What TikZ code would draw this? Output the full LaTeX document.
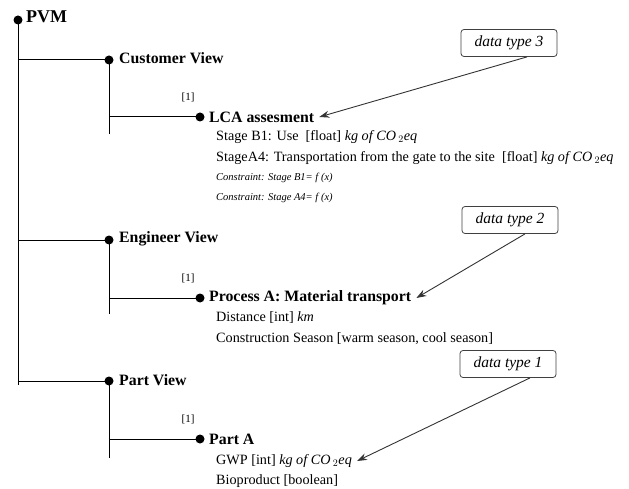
\documentclass[tikz,border=0pt]{standalone}
\usepackage{fontspec}
\setmainfont{Liberation Serif}
\usetikzlibrary{arrows.meta}
\begin{document}
\begin{tikzpicture}[x=1pt,y=-1pt,
  dotn/.style={circle,fill=black,inner sep=0pt,minimum size=9pt},
  tree/.style={line width=1pt,black},
  head/.style={anchor=west,inner sep=0pt,font=\fontsize{15.8}{18}\selectfont\bfseries},
  txt/.style={anchor=west,inner sep=0pt,font=\fontsize{14.2}{16}\selectfont},
  cons/.style={anchor=west,inner sep=0pt,font=\fontsize{10.5}{12}\selectfont\itshape},
  mult/.style={inner sep=0pt,font=\fontsize{11}{13}\selectfont},
  callout/.style={draw=black!75,rounded corners=3pt,line width=0.8pt,minimum width=96pt,minimum height=27pt,inner sep=0pt,font=\fontsize{15.5}{17}\selectfont\itshape},
  note/.style={draw=black!80,line width=0.9pt,-{Stealth[length=10pt,width=7pt]}}]
\useasboundingbox (0,0) rectangle (629,489);
% dots
\node[dotn] (pvm) at (18,20) {};
\node[dotn] (cv) at (109,60) {};
\node[dotn] (lca) at (200,117) {};
\node[dotn] (ev) at (109,240) {};
\node[dotn] (pa) at (200,298) {};
\node[dotn] (pv) at (109,381) {};
\node[dotn] (pta) at (200,439) {};
\coordinate (pvmend) at (18,385);
\coordinate (cvend) at (109,134);
\coordinate (evend) at (109,314);
\coordinate (pvend) at (109,458);
% tree lines
\draw[tree] (pvm.center) -- (pvmend);
\draw[tree] (pvm.center |- cv) -- (cv.center);
\draw[tree] (pvm.center |- ev) -- (ev.center);
\draw[tree] (pvm.center |- pv) -- (pv.center);
\draw[tree] (cv.center) -- (cvend);
\draw[tree] (ev.center) -- (evend);
\draw[tree] (pv.center) -- (pvend);
\draw[tree] (cv.center |- lca) -- (lca.center);
\draw[tree] (ev.center |- pa) -- (pa.center);
\draw[tree] (pv.center |- pta) -- (pta.center);
% labels
\node[head,font=\fontsize{18}{20}\selectfont\bfseries] (tpvm) at (26,17) {PVM};
\node[head] (tcv) at (119,58) {Customer View};
\node[head] (tev) at (119,239) {Engineer View};
\node[head] (tpv) at (119,380) {Part View};
\node[mult] (m1) at (188,97) {[1]};
\node[mult] (m2) at (188,278) {[1]};
\node[mult] (m3) at (188,419) {[1]};
\node[head] (tlca) at (209,117) {LCA assesment};
\node[head] (tpa) at (209,298) {Process A: Material transport};
\node[head] (tpta) at (209,439) {Part A};
\node[txt] (l1) at (216,137) {Stage B1: Use\ \ [float] \textit{kg of CO\,$_2$eq}};
\node[txt] (l2) at (216,158) {StageA4: Transportation from the gate to the site\ \ [float] \textit{kg of CO\,$_2$eq}};
\node[cons] (l3) at (216,178) {Constraint: Stage B1= \textit{f} (x)};
\node[cons] (l4) at (216,198) {Constraint: Stage A4= \textit{f} (x)};
\node[txt] (l5) at (216,318) {Distance [int] \textit{km}};
\node[txt] (l6) at (216,339) {Construction Season [warm season, cool season]};
\node[txt] (gwp) at (216,461) {GWP [int] \textit{kg of CO\,$_2$eq}};
\node[txt] (l8) at (216,481) {Bioproduct [boolean]};
% callouts
\node[callout] (d3) at (509,43) {data type 3};
\node[callout] (d2) at (510,220) {data type 2};
\node[callout] (d1) at (508,364) {data type 1};
\draw[note] ([xshift=18pt]d3.south) -- ([xshift=5pt]tlca.east);
\draw[note] ([xshift=15pt]d2.south) -- ([xshift=5pt]tpa.east);
\draw[note] ([xshift=22pt]d1.south) -- ([xshift=5pt]gwp.east);
\end{tikzpicture}
\end{document}
